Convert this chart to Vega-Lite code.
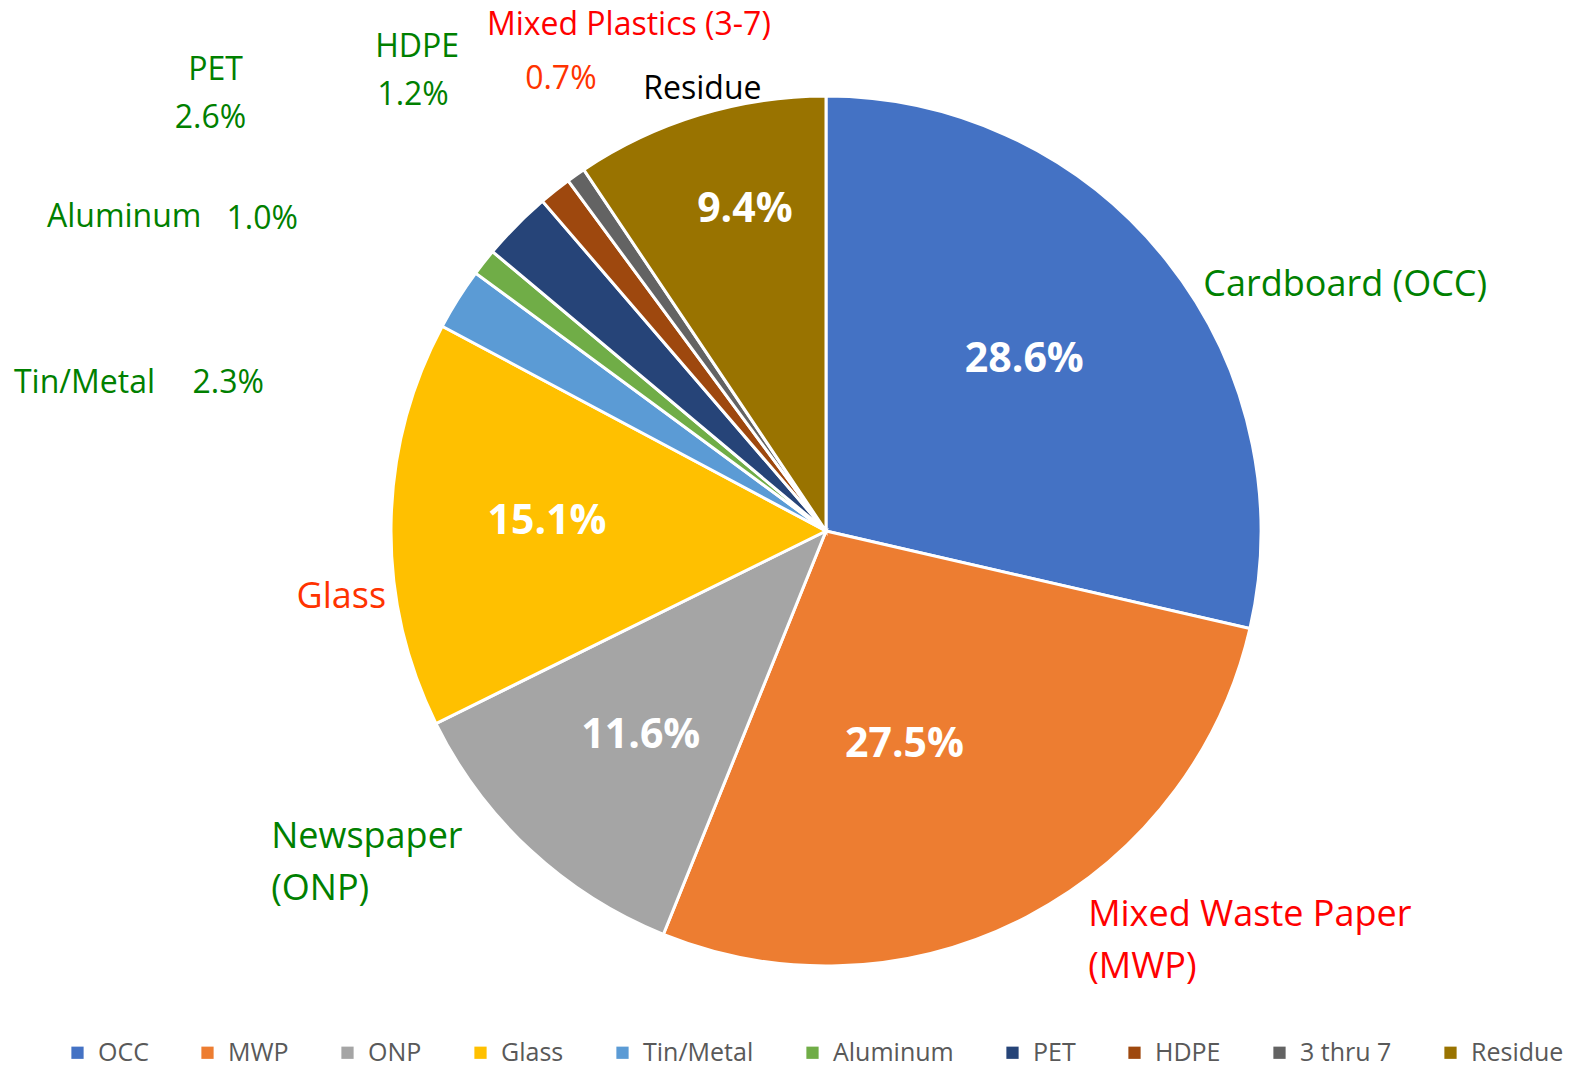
{
  "$schema": "https://vega.github.io/schema/vega-lite/v6.json",
  "width": 870,
  "height": 870,
  "autosize": "none",
  "padding": {"left": 391, "top": 96, "right": 317, "bottom": 105},
  "background": "white",
  "config": {"view": {"stroke": null}, "text": {"font": "Open Sans"}},
  "data": {"values": [
    {"ord": 1, "cat": "OCC", "name": "Cardboard (OCC)", "share": 0.286},
    {"ord": 2, "cat": "MWP", "name": "Mixed Waste Paper\n(MWP)", "share": 0.275},
    {"ord": 3, "cat": "ONP", "name": "Newspaper\n(ONP)", "share": 0.116},
    {"ord": 4, "cat": "Glass", "name": "Glass", "share": 0.151},
    {"ord": 5, "cat": "Tin/Metal", "name": "Tin/Metal", "share": 0.023},
    {"ord": 6, "cat": "Aluminum", "name": "Aluminum", "share": 0.010},
    {"ord": 7, "cat": "PET", "name": "PET", "share": 0.026},
    {"ord": 8, "cat": "HDPE", "name": "HDPE", "share": 0.012},
    {"ord": 9, "cat": "3 thru 7", "name": "Mixed Plastics (3-7)", "share": 0.007},
    {"ord": 10, "cat": "Residue", "name": "Residue", "share": 0.094}
  ]},
  "encoding": {
    "theta": {"field": "share", "type": "quantitative", "stack": true},
    "order": {"field": "ord", "type": "quantitative"}
  },
  "layer": [
    {
      "mark": {"type": "arc", "stroke": "white", "strokeWidth": 3},
      "encoding": {
        "color": {
          "field": "cat", "type": "nominal",
          "scale": {
            "domain": ["OCC", "MWP", "ONP", "Glass", "Tin/Metal", "Aluminum", "PET", "HDPE", "3 thru 7", "Residue"],
            "range": ["#4472C4", "#ED7D31", "#A5A5A5", "#FFC000", "#5B9BD5", "#70AD47", "#264478", "#9E480E", "#636363", "#997300"]
          },
          "legend": {
            "orient": "none", "legendX": -326, "legendY": 944, "direction": "horizontal", "columns": 10,
            "title": null, "symbolType": "square", "symbolSize": 150, "symbolStrokeWidth": 0,
            "labelFont": "Open Sans", "labelFontSize": 25, "labelColor": "#595959",
            "columnPadding": 46, "labelOffset": 8, "padding": 0
          }
        }
      }
    },
    {"mark": {"type": "text", "radius": 265, "dx": -9, "dy": -6, "fontSize": 41, "fontWeight": "bold", "fill": "white", "align": "center", "baseline": "middle"},
     "encoding": {"text": {"condition": {"test": "datum.cat==='OCC'", "field": "share", "type": "quantitative", "format": ".1%"}, "value": ""}}},
    {"mark": {"type": "text", "radius": 265, "dx": -44, "dy": -21, "fontSize": 41, "fontWeight": "bold", "fill": "white", "align": "center", "baseline": "middle"},
     "encoding": {"text": {"condition": {"test": "datum.cat==='MWP'", "field": "share", "type": "quantitative", "format": ".1%"}, "value": ""}}},
    {"mark": {"type": "text", "radius": 265, "dx": -5, "dy": 11, "fontSize": 41, "fontWeight": "bold", "fill": "white", "align": "center", "baseline": "middle"},
     "encoding": {"text": {"condition": {"test": "datum.cat==='ONP'", "field": "share", "type": "quantitative", "format": ".1%"}, "value": ""}}},
    {"mark": {"type": "text", "radius": 265, "dx": -14, "dy": -5, "fontSize": 41, "fontWeight": "bold", "fill": "white", "align": "center", "baseline": "middle"},
     "encoding": {"text": {"condition": {"test": "datum.cat==='Glass'", "field": "share", "type": "quantitative", "format": ".1%"}, "value": ""}}},
    {"mark": {"type": "text", "radius": 265, "dx": -4, "dy": -67, "fontSize": 41, "fontWeight": "bold", "fill": "white", "align": "center", "baseline": "middle"},
     "encoding": {"text": {"condition": {"test": "datum.cat==='Residue'", "field": "share", "type": "quantitative", "format": ".1%"}, "value": ""}}},

    {"mark": {"type": "text", "radius": 435, "dx": 37, "dy": 25, "fontSize": 36, "fill": "#008000", "align": "left", "baseline": "middle"},
     "encoding": {"text": {"condition": {"test": "datum.cat==='OCC'", "field": "name", "type": "nominal"}, "value": ""}}},
    {"mark": {"type": "text", "radius": 435, "dx": 61, "dy": -2, "fontSize": 36, "fill": "#FF0000", "align": "left", "baseline": "middle", "lineBreak": "\n", "lineHeight": 52},
     "encoding": {"text": {"condition": {"test": "datum.cat==='MWP'", "field": "name", "type": "nominal"}, "value": ""}}},
    {"mark": {"type": "text", "radius": 435, "dx": -259, "dy": -13, "fontSize": 36, "fill": "#008000", "align": "left", "baseline": "middle", "lineBreak": "\n", "lineHeight": 52},
     "encoding": {"text": {"condition": {"test": "datum.cat==='ONP'", "field": "name", "type": "nominal"}, "value": ""}}},
    {"mark": {"type": "text", "radius": 435, "dx": -5, "dy": 73, "fontSize": 36, "fill": "#FF3300", "align": "right", "baseline": "middle"},
     "encoding": {"text": {"condition": {"test": "datum.cat==='Glass'", "field": "name", "type": "nominal"}, "value": ""}}},

    {"mark": {"type": "text", "radius": 435, "dx": -444, "dy": 84, "fontSize": 32, "fill": "#008000", "align": "left", "baseline": "middle"},
     "encoding": {"text": {"condition": {"test": "datum.cat==='Tin/Metal'", "field": "name", "type": "nominal"}, "value": ""}}},
    {"mark": {"type": "text", "radius": 435, "dx": -194, "dy": 84, "fontSize": 32, "fill": "#008000", "align": "right", "baseline": "middle"},
     "encoding": {"text": {"condition": {"test": "datum.cat==='Tin/Metal'", "field": "share", "type": "quantitative", "format": ".1%"}, "value": ""}}},
    {"mark": {"type": "text", "radius": 435, "dx": -437, "dy": -45, "fontSize": 32, "fill": "#008000", "align": "left", "baseline": "middle"},
     "encoding": {"text": {"condition": {"test": "datum.cat==='Aluminum'", "field": "name", "type": "nominal"}, "value": ""}}},
    {"mark": {"type": "text", "radius": 435, "dx": -186, "dy": -43, "fontSize": 32, "fill": "#008000", "align": "right", "baseline": "middle"},
     "encoding": {"text": {"condition": {"test": "datum.cat==='Aluminum'", "field": "share", "type": "quantitative", "format": ".1%"}, "value": ""}}},
    {"mark": {"type": "text", "radius": 435, "dx": -301, "dy": -155, "fontSize": 32, "fill": "#008000", "align": "center", "baseline": "middle"},
     "encoding": {"text": {"condition": {"test": "datum.cat==='PET'", "field": "name", "type": "nominal"}, "value": ""}}},
    {"mark": {"type": "text", "radius": 435, "dx": -306, "dy": -107, "fontSize": 32, "fill": "#008000", "align": "center", "baseline": "middle"},
     "encoding": {"text": {"condition": {"test": "datum.cat==='PET'", "field": "share", "type": "quantitative", "format": ".1%"}, "value": ""}}},
    {"mark": {"type": "text", "radius": 435, "dx": -138, "dy": -144, "fontSize": 32, "fill": "#008000", "align": "center", "baseline": "middle"},
     "encoding": {"text": {"condition": {"test": "datum.cat==='HDPE'", "field": "name", "type": "nominal"}, "value": ""}}},
    {"mark": {"type": "text", "radius": 435, "dx": -142, "dy": -96, "fontSize": 32, "fill": "#008000", "align": "center", "baseline": "middle"},
     "encoding": {"text": {"condition": {"test": "datum.cat==='HDPE'", "field": "share", "type": "quantitative", "format": ".1%"}, "value": ""}}},
    {"mark": {"type": "text", "radius": 435, "dx": 53, "dy": -150, "fontSize": 32, "fill": "#FF0000", "align": "center", "baseline": "middle"},
     "encoding": {"text": {"condition": {"test": "datum.cat==='3 thru 7'", "field": "name", "type": "nominal"}, "value": ""}}},
    {"mark": {"type": "text", "radius": 435, "dx": -15, "dy": -96, "fontSize": 32, "fill": "#FF3300", "align": "center", "baseline": "middle"},
     "encoding": {"text": {"condition": {"test": "datum.cat==='3 thru 7'", "field": "share", "type": "quantitative", "format": ".1%"}, "value": ""}}},
    {"mark": {"type": "text", "radius": 435, "dx": 3, "dy": -26, "fontSize": 32, "fill": "black", "align": "center", "baseline": "middle"},
     "encoding": {"text": {"condition": {"test": "datum.cat==='Residue'", "field": "name", "type": "nominal"}, "value": ""}}}
  ]
}
